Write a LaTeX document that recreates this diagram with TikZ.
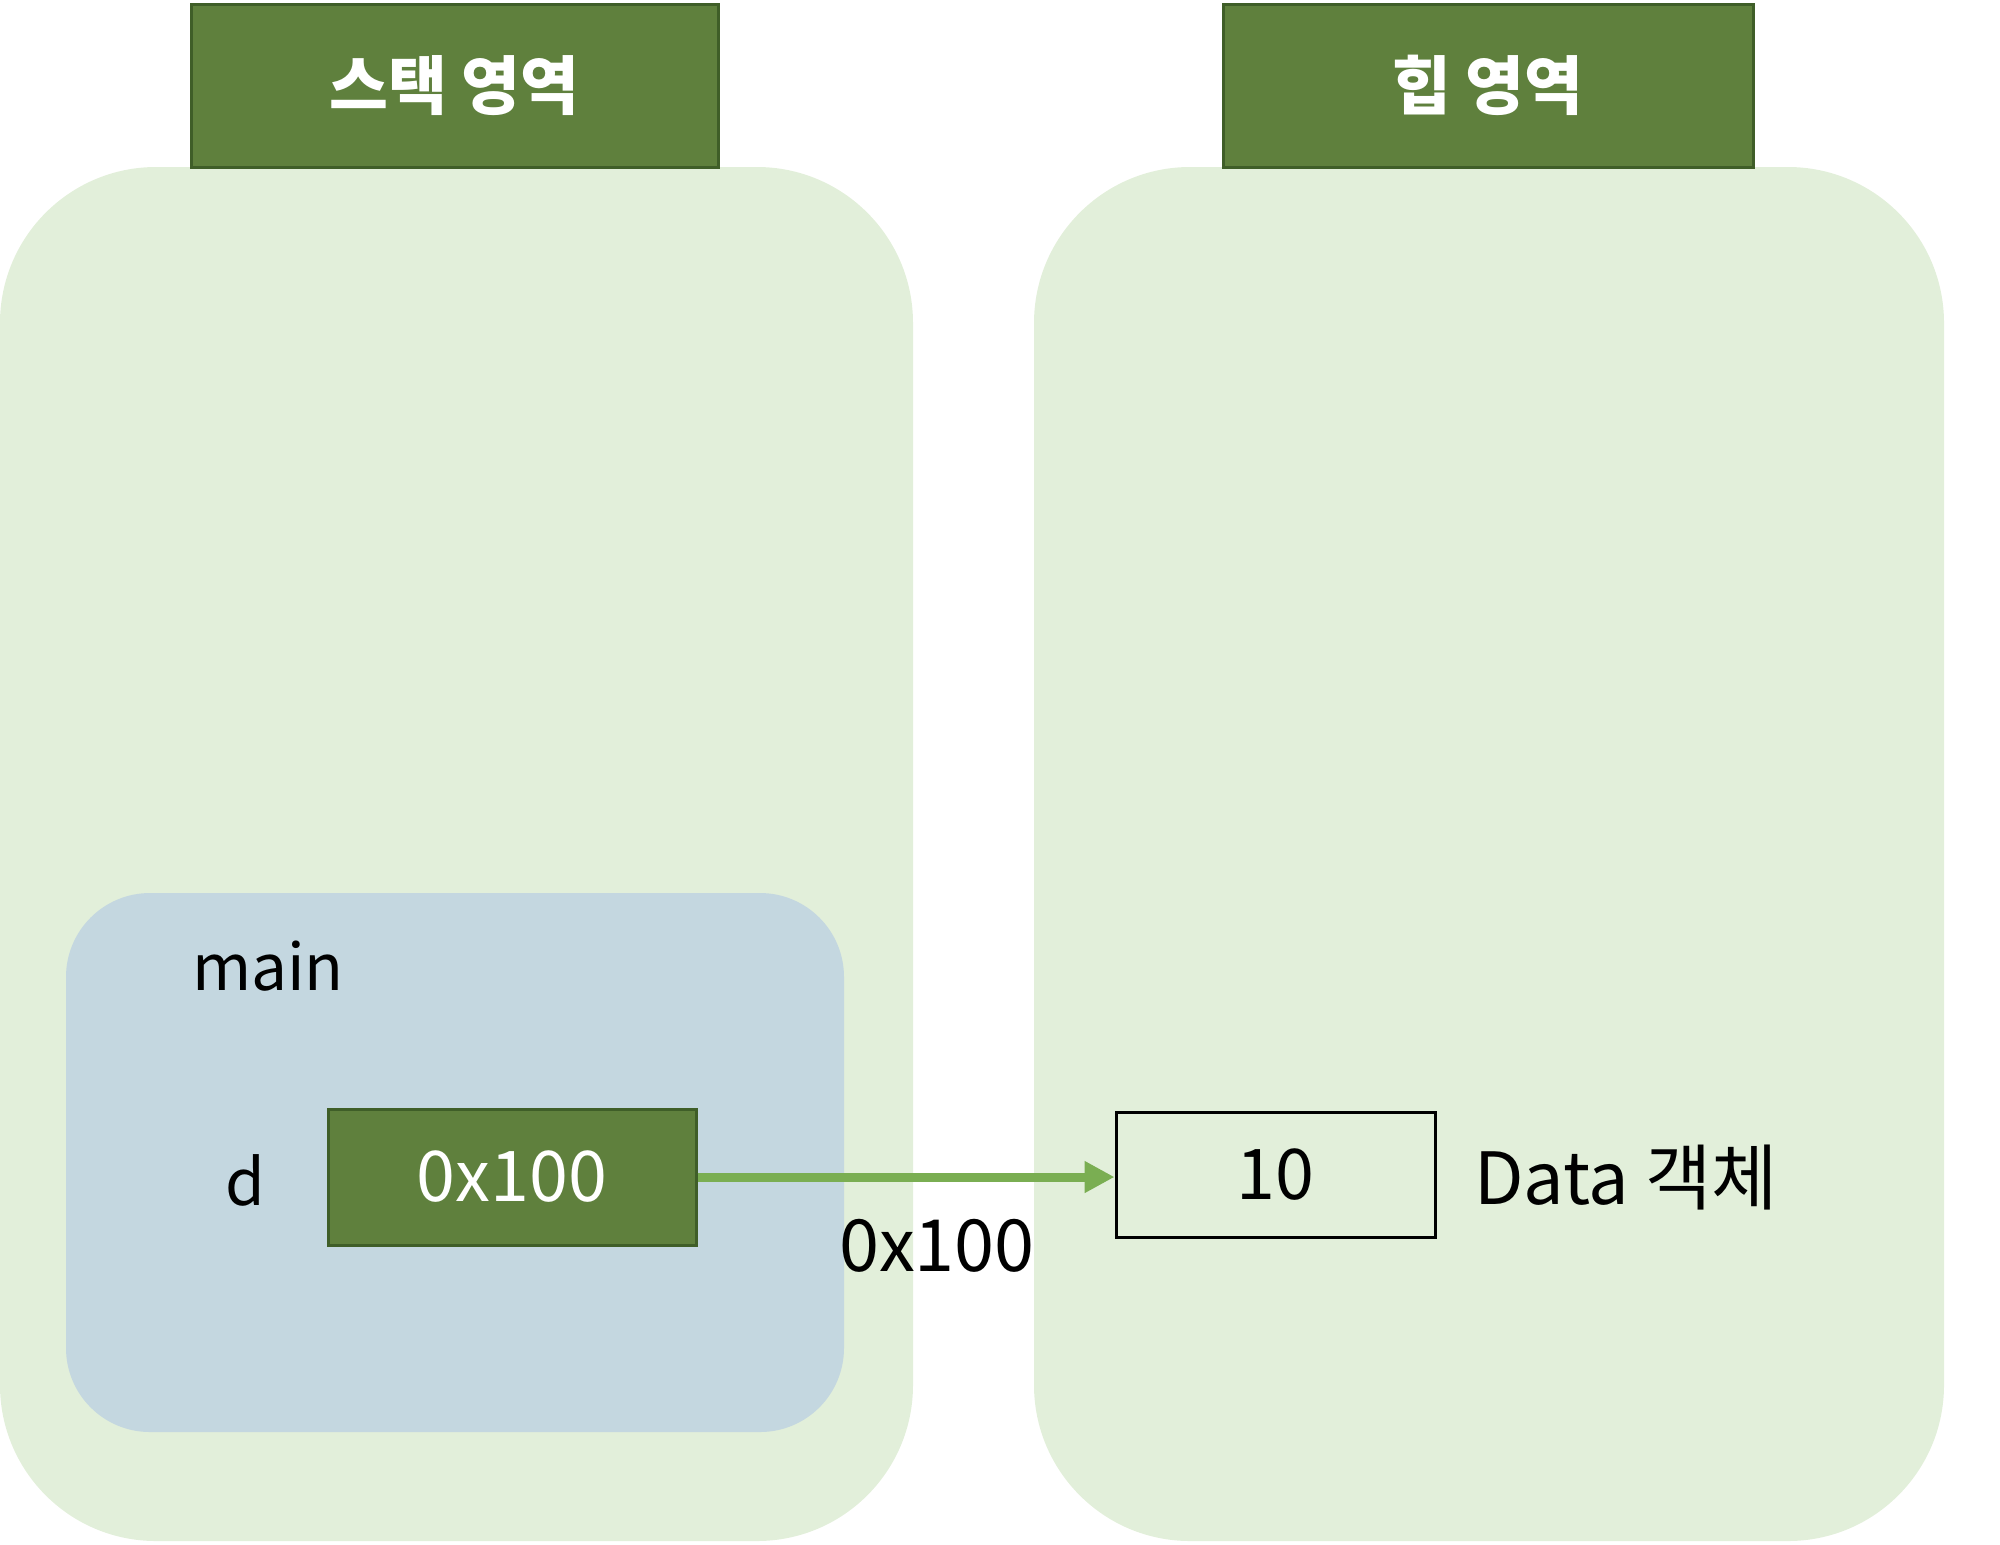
\documentclass[tikz,border=0pt]{standalone}
\usepackage{fontspec}
\setmainfont{Noto Sans CJK KR}
\usetikzlibrary{arrows.meta}
\definecolor{hdrgreen}{HTML}{5F803D}
\definecolor{hdrborder}{HTML}{3F5E28}
\definecolor{areagreen}{HTML}{E2EFDA}
\definecolor{mainblue}{HTML}{C4D7E0}
\definecolor{arrowgreen}{HTML}{7AAE52}
\tikzset{
  area/.style={fill=areagreen, draw=none, rounded corners=78pt},
  header/.style={fill=hdrgreen, draw=hdrborder, line width=1.5pt, minimum width=#1, minimum height=81.5pt, inner sep=0pt, text=white, font=\fontsize{32}{38}\selectfont\bfseries},
  valbox/.style={fill=hdrgreen, draw=hdrborder, line width=1.5pt, minimum width=184pt, minimum height=68pt, inner sep=0pt, text=white, font=\fontsize{35}{40}\selectfont},
  objbox/.style={fill=areagreen, draw=black, line width=1.5pt, minimum width=159.5pt, minimum height=62.5pt, inner sep=0pt, font=\fontsize{35}{40}\selectfont},
  lbl/.style={inner sep=0pt, font=\fontsize{32}{38}\selectfont},
  ptr/.style={draw=arrowgreen, line width=4.5pt, -{Triangle[length=15pt,width=15pt]}}
}
\begin{document}
\begin{tikzpicture}[x=0.5pt,y=-0.5pt]
\useasboundingbox (0,0) rectangle (2000,1544);
% containers
\path[area] (0,167) rectangle (913,1541);
\path[area] (1034,167) rectangle (1944,1541);
\path[fill=mainblue, rounded corners=42pt] (66,893) rectangle (844,1432);
% headers
\node[header=263.5pt] (stackhdr) at (454.5,85.5) {스택 영역};
\node[header=265pt] (heaphdr) at (1488,85.5) {힙 영역};
% labels
\node[lbl] (mainlbl) at (268,966) {main};
\node[lbl] (dlbl) at (245,1180) {d};
% boxes
\node[valbox] (dval) at (512,1177) {0x100};
\node[objbox] (obj) at (1275.5,1175) {10};
\node[lbl, anchor=west, font=\fontsize{36}{42}\selectfont] (objlbl) at (1474,1178) {Data 객체};
% pointer
\draw[ptr] (dval.east) -- (dval.east -| obj.west);
\node[lbl, font=\fontsize{36}{42}\selectfont] (ptrlbl) at (937,1246) {0x100};
\end{tikzpicture}
\end{document}
